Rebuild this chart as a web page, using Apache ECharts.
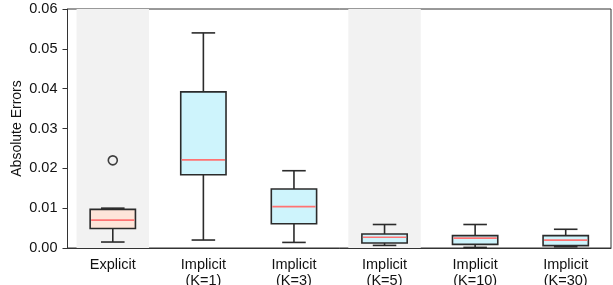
<!DOCTYPE html>
<html>
<head>
<meta charset="utf-8">
<script src="https://cdn.jsdelivr.net/npm/echarts@6/dist/echarts.min.js"></script>
<style>
  html, body { margin: 0; padding: 0; background: #fff; }
  #main { width: 613px; height: 285px; }
</style>
</head>
<body>
<div id="main"></div>
<script>
// categories on x axis
var categories = ['Explicit', 'Implicit\n(K=1)', 'Implicit\n(K=3)', 'Implicit\n(K=5)', 'Implicit\n(K=10)', 'Implicit\n(K=30)'];

// box statistics
var lowWhisker = [0.0015, 0.0020, 0.0014, 0.00065, 0.00015, 0.0003];
var q1 = [0.0049, 0.0184, 0.0061, 0.00125, 0.0009, 0.0006];
var median = [0.0070, 0.0221, 0.0104, 0.0027, 0.0025, 0.0020];
var q3 = [0.0097, 0.0392, 0.0148, 0.0035, 0.0031, 0.0031];
var highWhisker = [0.0100, 0.0540, 0.0194, 0.0059, 0.0059, 0.0047];

// outliers: [category index, value]
var outliers = [[0, 0.0220]];

// categories with grey background band
var shadedCategories = [0, 3];

// y axis ticks
var yTicks = [0, 0.01, 0.02, 0.03, 0.04, 0.05, 0.06];

var font = '"Liberation Sans", Arial, Helvetica, sans-serif';
var edgeColor = '#2b2b2b';

var boxData = categories.map(function (c, i) {
    return [i, lowWhisker[i], q1[i], median[i], q3[i], highWhisker[i]];
});

var bandData = shadedCategories.map(function (i) {
    return [i, yTicks[0], yTicks[yTicks.length - 1]];
});

// grey band behind a category, 80% of the category width
function renderBand(params, api) {
    var i = api.value(0);
    var bottom = api.coord([i, api.value(1)]);
    var top = api.coord([i, api.value(2)]);
    var w = api.size([1, 0])[0] * 0.8;
    return {
        type: 'rect',
        shape: { x: bottom[0] - w / 2, y: top[1], width: w, height: bottom[1] - top[1] },
        style: { fill: '#f2f2f2' },
        silent: true
    };
}

// box with whiskers, caps half as wide as the box
function renderBox(params, api) {
    var i = api.value(0);
    var low = api.coord([i, api.value(1)]);
    var p1 = api.coord([i, api.value(2)]);
    var med = api.coord([i, api.value(3)]);
    var p3 = api.coord([i, api.value(4)]);
    var high = api.coord([i, api.value(5)]);
    var band = api.size([1, 0])[0];
    var hw = band * 0.25;
    var cw = band * 0.13;
    var x = low[0];
    var fill = i == 0 ? '#fee5d9' : '#cef4fc';
    var line = { stroke: edgeColor, lineWidth: 1.6 };
    return {
        type: 'group',
        children: [
            { type: 'line', shape: { x1: x, y1: p3[1], x2: x, y2: high[1] }, style: line },
            { type: 'line', shape: { x1: x, y1: p1[1], x2: x, y2: low[1] }, style: line },
            { type: 'line', shape: { x1: x - cw, y1: high[1], x2: x + cw, y2: high[1] }, style: line },
            { type: 'line', shape: { x1: x - cw, y1: low[1], x2: x + cw, y2: low[1] }, style: line },
            {
                type: 'rect',
                shape: { x: x - hw, y: p3[1], width: hw * 2, height: p1[1] - p3[1] },
                style: { fill: fill, stroke: edgeColor, lineWidth: 1.6 }
            },
            {
                type: 'line',
                shape: { x1: x - hw + 1, y1: med[1], x2: x + hw - 1, y2: med[1] },
                style: { stroke: '#ff7373', lineWidth: 1.7 }
            }
        ]
    };
}

var myChart = echarts.init(document.getElementById('main'), null, { renderer: 'canvas' });

var option = {
    animation: false,
    textStyle: { fontFamily: font },
    grid: {
        left: 67.5, right: 2, top: 9, bottom: 37,
        outerBoundsMode: 'none',
        containLabel: false,
        show: true, borderColor: '#333', borderWidth: 1, backgroundColor: 'transparent'
    },
    xAxis: {
        type: 'category',
        data: categories,
        boundaryGap: true,
        axisLine: { lineStyle: { color: '#333', width: 1 } },
        axisTick: { alignWithLabel: true, interval: 0, length: 5, lineStyle: { color: '#333' } },
        axisLabel: { interval: 0, color: '#111', fontSize: 14.5, lineHeight: 16, margin: 9, fontFamily: font },
        splitLine: { show: false }
    },
    yAxis: {
        type: 'value',
        min: yTicks[0],
        max: yTicks[yTicks.length - 1],
        interval: 0.01,
        name: 'Absolute Errors',
        nameLocation: 'middle',
        nameGap: 43,
        nameMoveOverlap: false,
        nameTextStyle: { color: '#111', fontSize: 14, fontFamily: font },
        axisLine: { show: true, lineStyle: { color: '#333', width: 1 } },
        axisTick: { show: true, length: 5, lineStyle: { color: '#333' } },
        axisLabel: {
            color: '#111', fontSize: 14.5, margin: 10, fontFamily: font,
            formatter: function (v) { return v.toFixed(2); }
        },
        splitLine: { show: false }
    },
    series: [
        {
            type: 'custom',
            renderItem: renderBand,
            data: bandData,
            encode: { x: 0, y: [1, 2] },
            z: 1,
            silent: true
        },
        {
            type: 'custom',
            renderItem: renderBox,
            data: boxData,
            encode: { x: 0, y: [1, 2, 3, 4, 5] },
            z: 3
        },
        {
            type: 'scatter',
            data: outliers,
            symbol: 'circle',
            symbolSize: 9,
            itemStyle: { color: 'rgba(0,0,0,0)', borderColor: '#111', borderWidth: 1.6 },
            z: 4
        }
    ]
};

myChart.setOption(option);
</script>
</body>
</html>
